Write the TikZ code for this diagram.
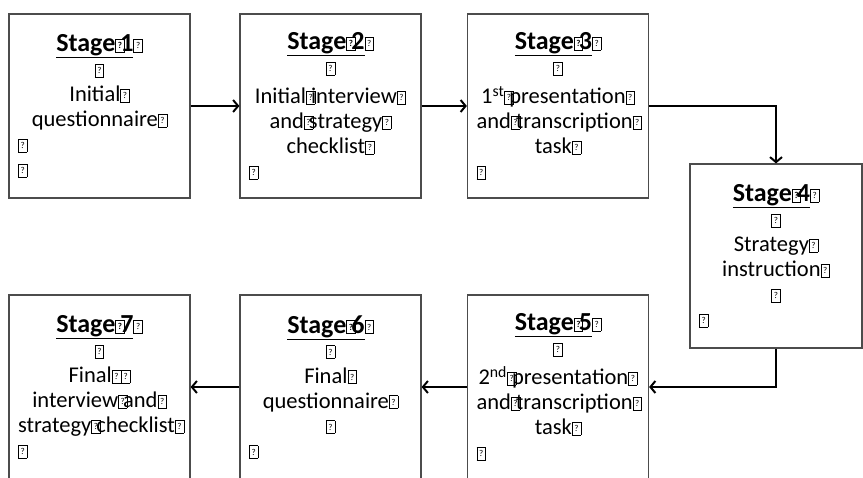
\documentclass[tikz,border=0pt]{standalone}
\usepackage{fontspec}
\setmainfont{Carlito}
\usetikzlibrary{arrows.meta}
\setlength{\parindent}{0pt}

% little framed query mark, as a glyph of its own
\newcommand{\qb}{{\setlength{\fboxsep}{0pt}\setlength{\fboxrule}{0.6pt}\fbox{\parbox[b][12pt][c]{8pt}{\centering\fontsize{9}{9}\selectfont ?}}}}
% the same mark standing in for a space (no break there)
\newcommand{\qs}{\rlap{\qb}\kern5pt\relax}
\newcommand{\stagehd}[1]{{\fontsize{26}{25}\selectfont\underline{\textbf{Stage\qs#1}}\qb}}

\begin{document}
\begin{tikzpicture}[x=1pt,y=-1pt]
		\tikzstyle{stagebox}=[draw=black!70,line width=1.2pt,minimum height=184pt,inner xsep=9pt,inner ysep=0pt,text width=163pt,font=\fontsize{22.5}{25}\selectfont]
		\tikzstyle{myarrow}=[line width=2pt,-{Straight Barb[length=5pt,width=12pt]}]

		\clip (0,0) rectangle (863,478);

		% top row
		\node[stagebox] (s1) at (99.5,106) {{\centering\stagehd{1}\\ \qb\\ Initial\qb\\ questionnaire\qb\par}\qb\par\qb};
		\node[stagebox] (s2) at (330.5,106) {{\centering\stagehd{2}\\ \qb\\[4pt] Initial\qs interview\qb\\ and\qs strategy\qb\\ checklist\qb\par}\qb};
		\node[stagebox] (s3) at (558,106) {{\centering\stagehd{3}\\ \qb\\[4pt] 1\textsuperscript{st}\qs presentation\qb\\ and\qs transcription\qb\\ task\qb\par}\qb};

		% the one on its own at the right
		\node[stagebox,text width=154pt] (s4) at (776,256) {{\centering\stagehd{4}\\ \qb\\ Strategy\qb\\ instruction\qb\\ \qb\par}\qb};

		% bottom row, runs off the foot
		\node[stagebox] (s5) at (558,387) {{\centering\stagehd{5}\\ \qb\\[4pt] 2\textsuperscript{nd}\qs presentation\qb\\ and\qs transcription\qb\\ task\qb\par}\qb};
		\node[stagebox] (s6) at (330.5,387) {{\centering\stagehd{6}\\ \qb\\ Final\qb\\ questionnaire\qb\\ \qb\par}\qb};
		\node[stagebox] (s7) at (99.5,387) {{\centering\stagehd{7}\\ \qb\\ Final\qb\qb\\ interview\qs and\qb\\ strategy\qs checklist\qb\par}\qb};

		\draw[myarrow] (s1.east) -- (s2.west);
		\draw[myarrow] (s2.east) -- (s3.west);
		\draw[myarrow] (s3.east) -| (s4.north);
		\draw[myarrow] (s4.south) |- (s5.east);
		\draw[myarrow] (s5.west) -- (s6.east);
		\draw[myarrow] (s6.west) -- (s7.east);
	\end{tikzpicture}
\end{document}
